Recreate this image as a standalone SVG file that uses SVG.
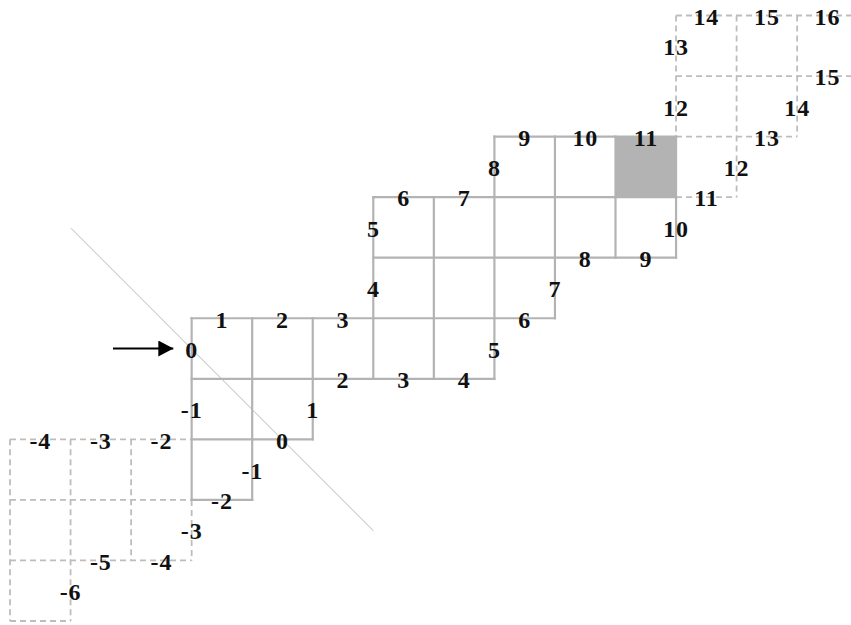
<svg xmlns="http://www.w3.org/2000/svg" width="851" height="625" viewBox="0 0 851 625">
<defs>
<style>
.solid{stroke:#b3b3b3;stroke-width:2.2;fill:none;stroke-linecap:square}
.dash{stroke:#bdbdbd;stroke-width:1.8;fill:none;stroke-dasharray:6 4}
.diag{stroke:#b8b8b8;stroke-width:1;fill:none}
.lbl{font-family:"Liberation Serif","Times New Roman",serif;font-weight:bold;font-size:24px;letter-spacing:0.8px;fill:#111;text-anchor:middle}
</style>
<marker id="ah" viewBox="0 0 15 16" refX="15" refY="8" markerWidth="15" markerHeight="16" markerUnits="userSpaceOnUse" orient="auto">
<path d="M0,0 L15,8 L0,16 Z" fill="#000"/>
</marker>
</defs>
<rect width="851" height="625" fill="#fff"/>
<g id="shaded">
<rect x="615.5" y="136.6" width="60.55" height="60.55" fill="#b3b3b3"/>
</g>
<g id="dashed-grid">
<line class="dash" x1="10" y1="439.35" x2="191.65" y2="439.35"/>
<line class="dash" x1="10" y1="499.9" x2="191.65" y2="499.9"/>
<line class="dash" x1="10" y1="560.45" x2="191.65" y2="560.45"/>
<line class="dash" x1="10" y1="621" x2="70.55" y2="621"/>
<line class="dash" x1="10" y1="439.35" x2="10" y2="621"/>
<line class="dash" x1="70.55" y1="439.35" x2="70.55" y2="621"/>
<line class="dash" x1="131.1" y1="439.35" x2="131.1" y2="560.45"/>
<line class="dash" x1="191.65" y1="499.9" x2="191.65" y2="560.45"/>
<line class="dash" x1="676.05" y1="15.5" x2="860" y2="15.5"/>
<line class="dash" x1="676.05" y1="76.05" x2="860" y2="76.05"/>
<line class="dash" x1="676.05" y1="136.6" x2="797.15" y2="136.6"/>
<line class="dash" x1="676.05" y1="197.15" x2="736.6" y2="197.15"/>
<line class="dash" x1="676.05" y1="15.5" x2="676.05" y2="136.6"/>
<line class="dash" x1="736.6" y1="15.5" x2="736.6" y2="197.15"/>
<line class="dash" x1="797.15" y1="15.5" x2="797.15" y2="136.6"/>
</g>
<g id="solid-grid">
<line class="solid" x1="494.4" y1="136.6" x2="676.05" y2="136.6"/>
<line class="solid" x1="373.3" y1="197.15" x2="676.05" y2="197.15"/>
<line class="solid" x1="373.3" y1="257.7" x2="676.05" y2="257.7"/>
<line class="solid" x1="191.65" y1="318.25" x2="554.95" y2="318.25"/>
<line class="solid" x1="191.65" y1="378.8" x2="494.4" y2="378.8"/>
<line class="solid" x1="191.65" y1="439.35" x2="312.75" y2="439.35"/>
<line class="solid" x1="191.65" y1="499.9" x2="252.2" y2="499.9"/>
<line class="solid" x1="191.65" y1="318.25" x2="191.65" y2="499.9"/>
<line class="solid" x1="252.2" y1="318.25" x2="252.2" y2="499.9"/>
<line class="solid" x1="312.75" y1="318.25" x2="312.75" y2="439.35"/>
<line class="solid" x1="373.3" y1="197.15" x2="373.3" y2="378.8"/>
<line class="solid" x1="433.85" y1="197.15" x2="433.85" y2="378.8"/>
<line class="solid" x1="494.4" y1="136.6" x2="494.4" y2="378.8"/>
<line class="solid" x1="554.95" y1="136.6" x2="554.95" y2="318.25"/>
<line class="solid" x1="615.5" y1="136.6" x2="615.5" y2="257.7"/>
<line class="solid" x1="676.05" y1="136.6" x2="676.05" y2="257.7"/>
</g>
<g id="connectors">
<line class="diag" x1="71" y1="228.3" x2="373.3" y2="530.7"/>
<line x1="113" y1="348.5" x2="173.3" y2="348.5" stroke="#000" stroke-width="2" marker-end="url(#ah)"/>
</g>
<g id="labels">
<text class="lbl" x="221.9" y="327.5">1</text>
<text class="lbl" x="282.5" y="327.5">2</text>
<text class="lbl" x="343" y="327.5">3</text>
<text class="lbl" x="343" y="388">2</text>
<text class="lbl" x="40.3" y="448.6">-4</text>
<text class="lbl" x="100.8" y="448.6">-3</text>
<text class="lbl" x="161.4" y="448.6">-2</text>
<text class="lbl" x="282.5" y="448.6">0</text>
<text class="lbl" x="221.9" y="509.1">-2</text>
<text class="lbl" x="100.8" y="569.7">-5</text>
<text class="lbl" x="161.4" y="569.7">-4</text>
<text class="lbl" x="524.7" y="145.8">9</text>
<text class="lbl" x="585.2" y="145.8">10</text>
<text class="lbl" x="645.8" y="145.8">11</text>
<text class="lbl" x="403.6" y="206.4">6</text>
<text class="lbl" x="464.1" y="206.4">7</text>
<text class="lbl" x="585.2" y="266.9">8</text>
<text class="lbl" x="645.8" y="266.9">9</text>
<text class="lbl" x="524.7" y="327.5">6</text>
<text class="lbl" x="403.6" y="388">3</text>
<text class="lbl" x="464.1" y="388">4</text>
<text class="lbl" x="706.3" y="24.7">14</text>
<text class="lbl" x="766.9" y="24.7">15</text>
<text class="lbl" x="827.4" y="24.7">16</text>
<text class="lbl" x="827.4" y="85.3">15</text>
<text class="lbl" x="766.9" y="145.8">13</text>
<text class="lbl" x="706.3" y="206.4">11</text>
<text class="lbl" x="191.65" y="357.7">0</text>
<text class="lbl" x="191.65" y="418.3">-1</text>
<text class="lbl" x="312.75" y="418.3">1</text>
<text class="lbl" x="252.2" y="478.8">-1</text>
<text class="lbl" x="191.65" y="539.4">-3</text>
<text class="lbl" x="70.55" y="599.9">-6</text>
<text class="lbl" x="494.4" y="176.1">8</text>
<text class="lbl" x="373.3" y="236.6">5</text>
<text class="lbl" x="676.05" y="236.6">10</text>
<text class="lbl" x="373.3" y="297.2">4</text>
<text class="lbl" x="554.95" y="297.2">7</text>
<text class="lbl" x="494.4" y="357.7">5</text>
<text class="lbl" x="676.05" y="55">13</text>
<text class="lbl" x="676.05" y="115.5">12</text>
<text class="lbl" x="797.15" y="115.5">14</text>
<text class="lbl" x="736.6" y="176.1">12</text>
</g>
</svg>
